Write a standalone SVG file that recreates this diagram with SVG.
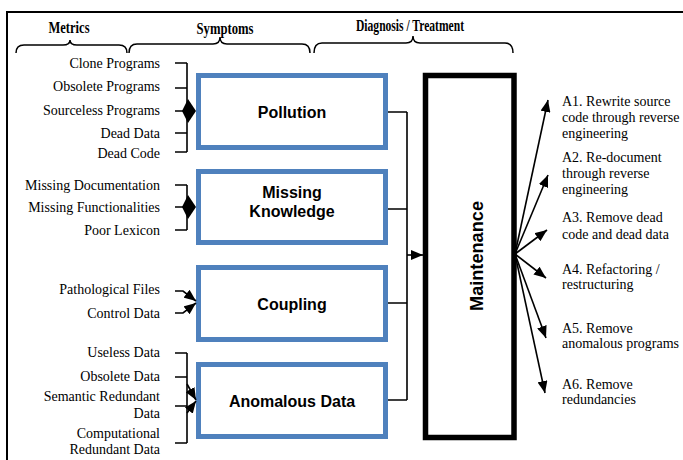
<svg xmlns="http://www.w3.org/2000/svg" width="683" height="460" viewBox="0 0 683 460">
<style>
.hdr{font-family:"Liberation Serif","Times New Roman",serif;font-weight:bold;font-size:16px;fill:#000;text-anchor:middle}
.ml{font-family:"Liberation Serif","Times New Roman",serif;font-size:14px;fill:#000;text-anchor:end}
.al{font-family:"Liberation Serif","Times New Roman",serif;font-size:14px;fill:#000}
.box{fill:#fff;stroke:#4F81BD;stroke-width:5}
.bt{font-family:"Liberation Sans",Arial,sans-serif;font-weight:bold;font-size:16px;fill:#000;text-anchor:middle}
.ln{fill:none;stroke:#000;stroke-width:1.6}
.br{fill:none;stroke:#000;stroke-width:1.5}
.ar{fill:none;stroke:#000;stroke-width:1.6;marker-end:url(#ah)}
</style>
<defs>
<marker id="ah" markerUnits="userSpaceOnUse" markerWidth="13" markerHeight="10" refX="12" refY="5" orient="auto">
<path d="M0,0 L12,5 L0,10 z" fill="#000"/>
</marker>
</defs>
<path d="M7,460 L7,12 L683,12" fill="none" stroke="#000" stroke-width="2"/>
<g id="headers">
<text class="hdr" x="69" y="33" textLength="41" lengthAdjust="spacingAndGlyphs">Metrics</text>
<text class="hdr" x="225" y="34" textLength="57" lengthAdjust="spacingAndGlyphs">Symptoms</text>
<text class="hdr" x="410" y="31" textLength="108" lengthAdjust="spacingAndGlyphs">Diagnosis / Treatment</text>
<path class="br" d="M16,53 Q16,45 24,45 L63,45 Q70,45 70,40 Q70,45 77,45 L119,45 Q127,45 127,53"/>
<path class="br" d="M129,53 Q129,44 137,44 L213,44 Q220,44 220,37 Q220,44 227,44 L302,44 Q310,44 310,53"/>
<path class="br" d="M314,53 Q314,43 322,43 L406,43 Q413,43 413,36 Q413,43 420,43 L505,43 Q513,43 513,53"/>
</g>
<g id="metrics">
<text class="ml" x="160" y="67.5">Clone Programs</text>
<text class="ml" x="160" y="90.5">Obsolete Programs</text>
<text class="ml" x="160" y="114.5">Sourceless Programs</text>
<text class="ml" x="160" y="137.5">Dead Data</text>
<text class="ml" x="160" y="157.5">Dead Code</text>
<text class="ml" x="160" y="189.5">Missing Documentation</text>
<text class="ml" x="160" y="211.5">Missing Functionalities</text>
<text class="ml" x="160" y="234.5">Poor Lexicon</text>
<text class="ml" x="160" y="293.5">Pathological Files</text>
<text class="ml" x="160" y="317.5">Control Data</text>
<text class="ml" x="160" y="356.5">Useless Data</text>
<text class="ml" x="160" y="380.5">Obsolete Data</text>
<text class="ml" x="160" y="400.5">Semantic Redundant</text>
<text class="ml" x="160" y="417.5">Data</text>
<text class="ml" x="160" y="437.5">Computational</text>
<text class="ml" x="160" y="453.5">Redundant Data</text>
</g>
<g id="pollution">
<rect class="box" x="198.5" y="75.5" width="187" height="72"/>
<text class="bt" x="292" y="117.5">Pollution</text>
</g>
<g id="missing-knowledge">
<rect class="box" x="198.5" y="171.5" width="187" height="71"/>
<text class="bt" x="292" y="198">Missing</text>
<text class="bt" x="292" y="217">Knowledge</text>
</g>
<g id="coupling">
<rect class="box" x="198.5" y="267.5" width="187" height="72"/>
<text class="bt" x="292" y="310">Coupling</text>
</g>
<g id="anomalous-data">
<rect class="box" x="198.5" y="364.5" width="187" height="72"/>
<text class="bt" x="292" y="407">Anomalous Data</text>
</g>
<g id="maintenance">
<rect x="425.5" y="75.5" width="88.5" height="362" fill="#fff" stroke="#000" stroke-width="5.5"/>
<text class="bt" transform="translate(483,256) rotate(-90)" style="font-size:19px" textLength="110" lengthAdjust="spacingAndGlyphs">Maintenance</text>
</g>
<g id="actions">
<text class="al" x="562" y="106">A1. Rewrite source</text>
<text class="al" x="562" y="122">code through reverse</text>
<text class="al" x="562" y="138">engineering</text>
<text class="al" x="562" y="162">A2. Re-document</text>
<text class="al" x="562" y="178">through reverse</text>
<text class="al" x="562" y="194">engineering</text>
<text class="al" x="562" y="222">A3. Remove dead</text>
<text class="al" x="562" y="239">code and dead data</text>
<text class="al" x="562" y="274">A4. Refactoring /</text>
<text class="al" x="562" y="289">restructuring</text>
<text class="al" x="562" y="333">A5. Remove</text>
<text class="al" x="562" y="348">anomalous programs</text>
<text class="al" x="562" y="389">A6. Remove</text>
<text class="al" x="562" y="404">redundancies</text>
</g>
<g id="connectors">
<path class="ln" d="M175,63 H187 M175,88 H187 M175,111 H187 M175,133 H187 M175,152 H187 M187,63 V152"/>
<path d="M188,99 Q192,105 196,111 Q192,117 188,123 L182,111 Z" fill="#000"/>
<path class="ln" d="M175,185 H187 M175,207 H187 M175,230 H187 M187,185 V230"/>
<path d="M188,195 Q192,201 196,207 Q192,213 188,219 L182,207 Z" fill="#000"/>
<path class="ar" d="M175,291 H183 L196,301"/>
<path class="ar" d="M175,313 H183 L196,303"/>
<path class="ln" d="M175,353 H187 M175,377 H187 M175,406 H187 M175,443 H187 M187,353 V443"/>
<path class="ar" d="M187,384 L196,400"/>
<path class="ar" d="M187,413 L196,401"/>
<path class="ln" d="M388,112 H407 M388,209 H407 M388,303 H407 M388,400 H407 M407,112 V400"/>
<path class="ar" d="M407,255 H423"/>
<path class="ar" d="M515,254 L548,100"/>
<path class="ar" d="M515,254 L548,175"/>
<path class="ar" d="M515,254 L547,230"/>
<path class="ar" d="M515,254 L546,278"/>
<path class="ar" d="M515,254 L546,338"/>
<path class="ar" d="M515,254 L545,393"/>
</g>
</svg>
